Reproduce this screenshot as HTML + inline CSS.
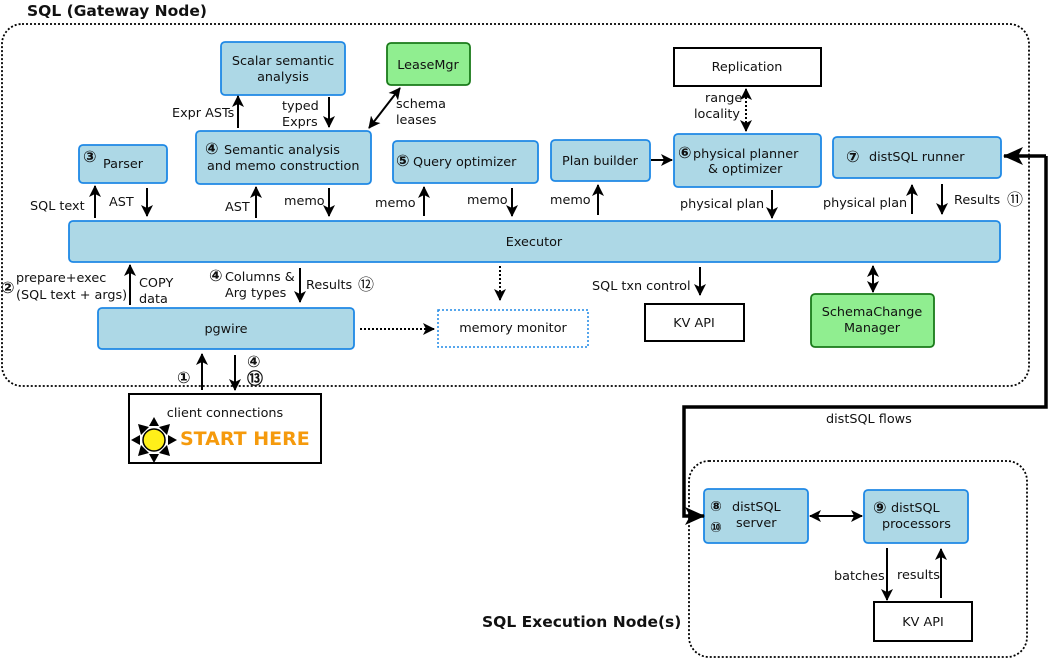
<!DOCTYPE html>
<html><head><meta charset="utf-8"><style>
html,body{margin:0;padding:0;background:#fff;}
svg{display:block;}
text{font-family:"DejaVu Sans","Liberation Sans",sans-serif;font-size:12.8px;fill:#111;}
.c{font-size:16px;font-weight:bold;}
.b{fill:#add8e6;stroke:#1e88e5;stroke-width:1.8;}
.g{fill:#90ee90;stroke:#1a7a1a;stroke-width:1.8;}
.w{fill:#fff;stroke:#000;stroke-width:2;}
.a{stroke:#000;stroke-width:2;fill:none;}
.d{stroke:#000;stroke-width:2;fill:none;stroke-dasharray:2 2;}
</style></head><body>
<svg width="1048" height="658" viewBox="0 0 1048 658" xmlns="http://www.w3.org/2000/svg">
<defs>
<marker id="m" markerWidth="12" markerHeight="12" refX="11" refY="6" orient="auto-start-reverse" markerUnits="userSpaceOnUse"><path d="M0,0 L12,6 L0,12 L3,6 z" fill="#000"/></marker>
<marker id="mb" markerWidth="20" markerHeight="18" refX="19" refY="9" orient="auto" markerUnits="userSpaceOnUse"><path d="M0,0 L20,9 L0,18 L5,9 z" fill="#000"/></marker>
</defs>
<text x="27" y="16" style="font-size:15.5px;font-weight:bold">SQL (Gateway Node)</text>
<rect x="2" y="24" width="1027" height="362" rx="20" fill="none" stroke="#000" stroke-width="1.8" stroke-dasharray="2 2"/>
<rect x="689" y="461" width="338" height="196" rx="20" fill="none" stroke="#000" stroke-width="1.8" stroke-dasharray="2 2"/>
<text x="482" y="627" style="font-size:15.5px;font-weight:bold">SQL Execution Node(s)</text>

<rect class="b" x="221" y="42" width="124" height="53" rx="4"/>
<text x="283" y="65" text-anchor="middle">Scalar semantic</text><text x="283" y="81" text-anchor="middle">analysis</text>
<rect class="g" x="387" y="43" width="83" height="42" rx="4"/>
<text x="428" y="69" text-anchor="middle">LeaseMgr</text>
<rect class="w" x="674" y="48" width="147" height="38"/>
<text x="747" y="71" text-anchor="middle">Replication</text>

<rect class="b" x="79" y="145" width="88" height="38" rx="4"/>
<text x="83" y="162" class="c">③</text><text x="103" y="168">Parser</text>
<rect class="b" x="196" y="131" width="175" height="53" rx="4"/>
<text x="205" y="154" class="c">④</text><text x="224" y="154">Semantic analysis</text><text x="207" y="170">and memo construction</text>
<rect class="b" x="393" y="141" width="145" height="42" rx="4"/>
<text x="396" y="166" class="c">⑤</text><text x="413" y="166">Query optimizer</text>
<rect class="b" x="551" y="140" width="99" height="41" rx="4"/>
<text x="600" y="165" text-anchor="middle">Plan builder</text>
<rect class="b" x="674" y="134" width="147" height="53" rx="4"/>
<text x="678" y="158" class="c">⑥</text><text x="693" y="158">physical planner</text><text x="708" y="173">&amp; optimizer</text>
<rect class="b" x="833" y="137" width="168" height="41" rx="4"/>
<text x="846" y="162" class="c">⑦</text><text x="869" y="161">distSQL runner</text>

<rect class="b" x="69" y="221" width="931" height="41" rx="4"/>
<text x="534" y="246" text-anchor="middle">Executor</text>

<rect class="b" x="98" y="308" width="256" height="41" rx="4"/>
<text x="226" y="333" text-anchor="middle">pgwire</text>
<rect x="438" y="310" width="150" height="37" fill="#fff" stroke="#1e88e5" stroke-width="1.5" stroke-dasharray="2 2"/>
<text x="513" y="332" text-anchor="middle">memory monitor</text>
<rect class="w" x="645" y="304" width="99" height="37"/>
<text x="694" y="327" text-anchor="middle">KV API</text>
<rect class="g" x="811" y="294" width="123" height="53" rx="4"/>
<text x="872" y="316" text-anchor="middle">SchemaChange</text><text x="872" y="332" text-anchor="middle">Manager</text>

<rect class="w" x="129" y="394" width="192" height="69"/>
<text x="225" y="417" text-anchor="middle">client connections</text>
<text x="180" y="445" style="font-size:19px;font-weight:bold;fill:#f59a0c">START HERE</text>
<g transform="translate(154,440)">
<path d="M0,-23 L5,-14 L-5,-14z M0,23 L5,14 L-5,14z M-23,0 L-14,5 L-14,-5z M23,0 L14,5 L14,-5z M-16,-16 L-13,-5 L-5,-13z M16,-16 L13,-5 L5,-13z M-16,16 L-13,5 L-5,13z M16,16 L13,5 L5,13z" fill="#000"/>
<circle r="11" fill="#ffef1a" stroke="#000" stroke-width="1.5"/>
</g>

<rect class="b" x="704" y="489" width="104" height="54" rx="4"/>
<text x="710" y="511" class="c" style="font-size:14px">⑧</text><text x="710" y="532" class="c" style="font-size:14px">⑩</text>
<text x="732" y="511">distSQL</text><text x="736" y="527">server</text>
<rect class="b" x="864" y="490" width="104" height="53" rx="4"/>
<text x="873" y="513" class="c">⑨</text><text x="891" y="512">distSQL</text><text x="882" y="528">processors</text>
<rect class="w" x="874" y="602" width="98" height="39"/>
<text x="923" y="626" text-anchor="middle">KV API</text>

<!-- arrows -->
<line class="a" x1="95" y1="218" x2="95" y2="186" marker-end="url(#m)"/>
<text x="30" y="210">SQL text</text>
<line class="a" x1="147" y1="188" x2="147" y2="216" marker-end="url(#m)"/>
<text x="109" y="206">AST</text>
<line class="a" x1="238" y1="128" x2="238" y2="96" marker-end="url(#m)"/>
<text x="172" y="117">Expr ASTs</text>
<line class="a" x1="329" y1="97" x2="329" y2="127" marker-end="url(#m)"/>
<text x="282" y="110">typed</text><text x="282" y="126">Exprs</text>
<line class="a" x1="400" y1="88" x2="369" y2="128" marker-start="url(#m)" marker-end="url(#m)"/>
<text x="396" y="108">schema</text><text x="396" y="124">leases</text>
<line class="a" x1="256" y1="218" x2="256" y2="187" marker-end="url(#m)"/>
<text x="225" y="211">AST</text>
<line class="a" x1="329" y1="188" x2="329" y2="216" marker-end="url(#m)"/>
<text x="284" y="205">memo</text>
<line class="a" x1="424" y1="216" x2="424" y2="187" marker-end="url(#m)"/>
<text x="375" y="207">memo</text>
<line class="a" x1="512" y1="188" x2="512" y2="216" marker-end="url(#m)"/>
<text x="467" y="204">memo</text>
<line class="a" x1="598" y1="215" x2="598" y2="185" marker-end="url(#m)"/>
<text x="550" y="204">memo</text>
<line class="a" x1="651" y1="160" x2="672" y2="160" marker-end="url(#m)"/>
<line class="d" x1="746" y1="89" x2="746" y2="131" marker-start="url(#m)" marker-end="url(#m)"/>
<text x="705" y="102">range</text><text x="694" y="118">locality</text>
<line class="a" x1="772" y1="190" x2="772" y2="218" marker-end="url(#m)"/>
<text x="680" y="208">physical plan</text>
<line class="a" x1="912" y1="214" x2="912" y2="185" marker-end="url(#m)"/>
<text x="823" y="207">physical plan</text>
<line class="a" x1="942" y1="184" x2="942" y2="214" marker-end="url(#m)"/>
<text x="954" y="204">Results</text><text x="1007" y="205" class="c" style="font-weight:normal">⑪</text>

<line class="a" x1="130" y1="305" x2="130" y2="265" marker-end="url(#m)"/>
<text x="139" y="287">COPY</text><text x="139" y="303">data</text>
<text x="1" y="293" class="c">②</text>
<text x="16" y="282">prepare+exec</text><text x="16" y="299">(SQL text + args)</text>
<line class="a" x1="300" y1="268" x2="300" y2="302" marker-end="url(#m)"/>
<text x="209" y="281" class="c">④</text><text x="225" y="281">Columns &amp;</text><text x="225" y="297">Arg types</text>
<text x="306" y="289">Results</text><text x="358" y="290" class="c" style="font-weight:normal">⑫</text>
<line class="d" x1="500" y1="266" x2="500" y2="300" marker-end="url(#m)"/>
<line class="d" x1="360" y1="329" x2="434" y2="329" stroke-width="1.5" marker-end="url(#m)"/>
<line class="a" x1="700" y1="267" x2="700" y2="295" marker-end="url(#m)"/>
<text x="592" y="290">SQL txn control</text>
<line class="a" x1="873" y1="266" x2="873" y2="292" marker-start="url(#m)" marker-end="url(#m)"/>

<line class="a" x1="202" y1="390" x2="202" y2="354" marker-end="url(#m)"/>
<text x="177" y="383" class="c">①</text>
<line class="a" x1="235" y1="355" x2="235" y2="390" marker-end="url(#m)"/>
<text x="247" y="367" class="c">④</text><text x="247" y="384" class="c">⑬</text>

<polyline points="1046,156 1046,407 684,407 684,516 704,516" fill="none" stroke="#000" stroke-width="3.5" marker-end="url(#mb)"/>
<line x1="1046" y1="156" x2="1004" y2="156" stroke="#000" stroke-width="3.5" marker-end="url(#mb)"/>
<text x="826" y="423">distSQL flows</text>
<line class="a" x1="810" y1="516" x2="862" y2="516" marker-start="url(#m)" marker-end="url(#m)"/>
<line class="a" x1="887" y1="548" x2="887" y2="600" marker-end="url(#m)"/>
<text x="834" y="580">batches</text>
<line class="a" x1="941" y1="598" x2="941" y2="549" marker-end="url(#m)"/>
<text x="897" y="579">results</text>
</svg>
</body></html>
